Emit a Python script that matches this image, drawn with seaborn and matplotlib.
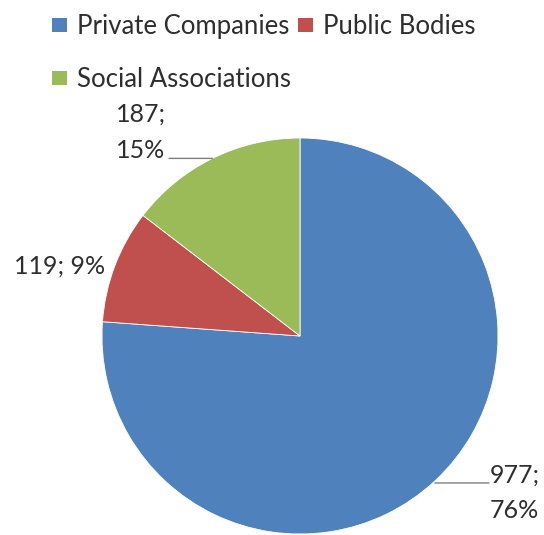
import numpy as np
import matplotlib
matplotlib.use("Agg")
import matplotlib.pyplot as plt
from matplotlib.patches import Patch
import seaborn as sns

# Funding sources by organisation type
categories = ["Private Companies", "Public Bodies", "Social Associations"]
counts = [977, 119, 187]
colors = ["#4F81BD", "#C0504D", "#9BBB59"]

sns.set_theme(style="white")
plt.rcParams["font.family"] = ["Lato", "DejaVu Sans"]

W, H = 544, 535
fig = plt.figure(figsize=(W / 100, H / 100), dpi=100)
ax = fig.add_axes([0, 0, 1, 1])

center = (300, H - 336)
radius = 198
wedges, _ = ax.pie(counts, colors=colors, startangle=90, counterclock=False,
                   center=center, radius=radius, frame=True,
                   wedgeprops=dict(linewidth=0.6, edgecolor="white"))
ax.set_xlim(0, W)
ax.set_ylim(0, H)
ax.set_aspect("equal")
ax.axis("off")

total = sum(counts)
values = [f"{c};" for c in counts]
shares = [f"{round(100 * c / total)}%" for c in counts]

text_kw = dict(fontsize=18, color="#2e2e2e")
line_kw = dict(arrowstyle="-", color="#7f7f7f", lw=1.0, shrinkA=0, shrinkB=0)
pitch = 35  # distance between the two lines of a label, in pixels


def edge_point(w):
    ang = np.deg2rad((w.theta1 + w.theta2) / 2)
    return center[0] + radius * np.cos(ang), center[1] + radius * np.sin(ang)


# Private Companies: two-line label lower right, leader at first baseline
px, py = edge_point(wedges[0])
ax.annotate("", xy=(px, py - 2), xytext=(489, py - 2), arrowprops=line_kw)
ax.text(490, py - 2, values[0], ha="left", va="baseline", **text_kw)
ax.text(490, py - 2 - pitch, shares[0], ha="left", va="baseline", **text_kw)

# Public Bodies: single-line label left of the wedge
px, py = edge_point(wedges[1])
ax.text(px - 10, py, f"{values[1]} {shares[1]}", ha="right", va="center",
        **text_kw)

# Social Associations: two-line label upper left, leader at second baseline
px, py = edge_point(wedges[2])
ax.annotate("", xy=(px, py), xytext=(169, py), arrowprops=line_kw)
ax.text(116, py, shares[2], ha="left", va="baseline", **text_kw)
ax.text(116, py + pitch + 2, values[2], ha="left", va="baseline", **text_kw)

handles = [Patch(facecolor=colors[i], edgecolor="none") for i in (0, 2, 1)]
names = [categories[i] for i in (0, 2, 1)]
ax.legend(handles, names, loc="upper left", bbox_to_anchor=(52 / W, 1 - 14 / H),
          bbox_transform=fig.transFigure, ncol=2, frameon=False,
          fontsize=18.5, labelcolor="#2e2e2e", borderpad=0, borderaxespad=0,
          handlelength=0.58, handleheight=0.5, handletextpad=0.38,
          columnspacing=0.3, labelspacing=1.1)

fig.savefig("out.png", dpi=100, facecolor="white")
